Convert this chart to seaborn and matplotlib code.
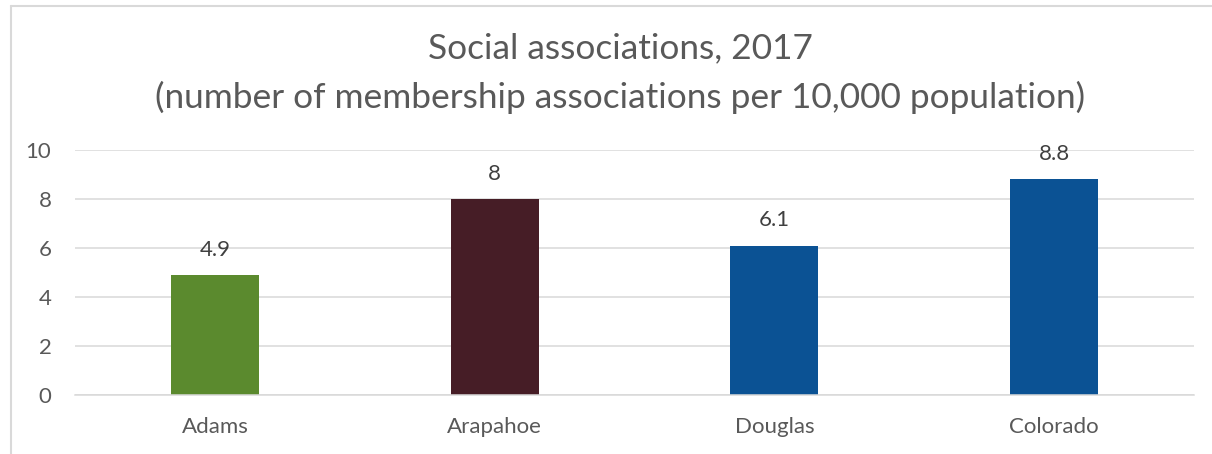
import matplotlib
matplotlib.use("Agg")
import matplotlib.pyplot as plt
from matplotlib.lines import Line2D
import seaborn as sns
import pandas as pd

# Data
counties = ["Adams", "Arapahoe", "Douglas", "Colorado"]
associations = [4.9, 8.0, 6.1, 8.8]
value_labels = ["4.9", "8", "6.1", "8.8"]
bar_colors = ["#5B8A2E", "#461D26", "#0B5294"]
palette = {"Adams": bar_colors[0], "Arapahoe": bar_colors[1],
           "Douglas": bar_colors[2], "Colorado": bar_colors[2]}
y_ticks = [0, 2, 4, 6, 8, 10]
title_lines = ["Social associations, 2017",
               "(number of membership associations per 10,000 population)"]

sns.set_theme(style="white")
plt.rcParams["font.family"] = ["Lato", "DejaVu Sans"]

df = pd.DataFrame({"county": counties, "value": associations})

fig = plt.figure(figsize=(12.12, 4.54), dpi=100)
ax = fig.add_axes([75 / 1212, 1 - 395 / 454, 1119 / 1212, 245 / 454])

sns.barplot(data=df, x="county", y="value", hue="county", palette=palette,
            order=counties, width=0.315, legend=False, ax=ax, saturation=1,
            linewidth=0)

ax.set_ylim(0, 10)
ax.set_yticks(y_ticks)
ax.set_yticklabels([str(t) for t in y_ticks])
ax.set_xlabel("")
ax.set_ylabel("")
ax.grid(axis="y", color="#D9D9D9", linewidth=1.1)
ax.set_axisbelow(True)
for side in ["left", "right", "top"]:
    ax.spines[side].set_visible(False)
ax.spines["bottom"].set_color("#D9D9D9")
ax.spines["bottom"].set_linewidth(1.1)
ax.tick_params(axis="both", length=0, labelsize=16, colors="#595959")
ax.tick_params(axis="y", pad=17)
ax.tick_params(axis="x", pad=16)

for i, cont in enumerate(ax.containers):
    ax.bar_label(cont, labels=[value_labels[i]], padding=11, fontsize=16, color="#404040")

fig.text(620 / 1212, 1 - 48 / 454, title_lines[0], ha="center", va="center",
         fontsize=25.4, color="#595959")
fig.text(620 / 1212, 1 - 97 / 454, title_lines[1], ha="center", va="center",
         fontsize=25.4, color="#595959")

# Chart frame
fig.add_artist(Line2D([11 / 1212, 11 / 1212], [0, 1 - 6 / 454], transform=fig.transFigure,
                      color="#D9D9D9", linewidth=1.5))
fig.add_artist(Line2D([11 / 1212, 1], [1 - 6 / 454, 1 - 6 / 454], transform=fig.transFigure,
                      color="#D9D9D9", linewidth=1.5))

fig.savefig("out.png", dpi=100, facecolor="white")
